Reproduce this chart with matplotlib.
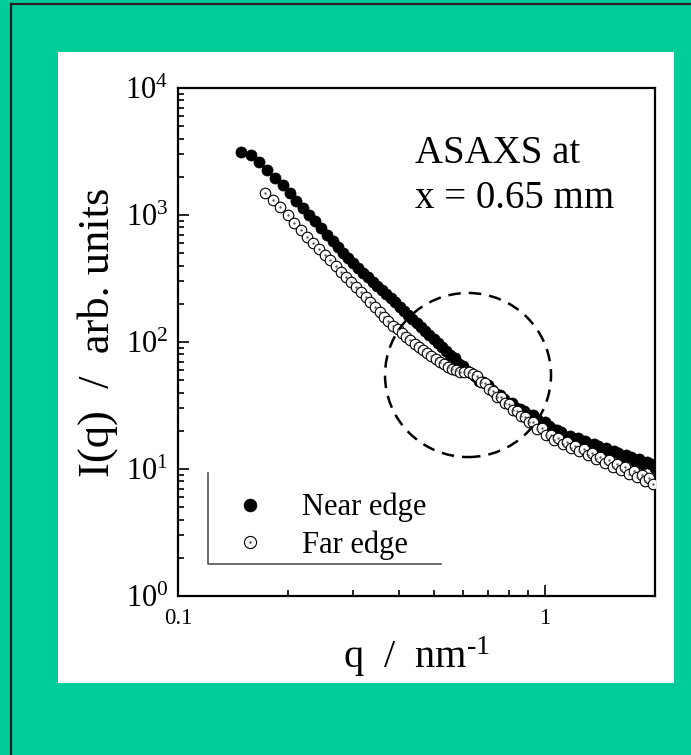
import math
import matplotlib
matplotlib.use('Agg')
import matplotlib.pyplot as plt
from matplotlib.lines import Line2D
from matplotlib.patches import Ellipse, Rectangle
from matplotlib.ticker import FixedLocator, NullFormatter

plt.rcParams['font.family'] = 'Liberation Serif'
plt.rcParams['mathtext.fontset'] = 'custom'
plt.rcParams['mathtext.rm'] = 'Liberation Serif'
plt.rcParams['mathtext.it'] = 'Liberation Serif:italic'

# ASAXS curves, scattering vector q in nm^-1 and intensity in arb. units
q_near = [0.149, 0.158, 0.166, 0.175, 0.184, 0.193, 0.202, 0.210, 0.219, 0.228,
          0.237, 0.246, 0.255, 0.264, 0.273, 0.282, 0.291, 0.300, 0.310, 0.320,
          0.330, 0.340, 0.350, 0.360, 0.370, 0.380, 0.391, 0.402, 0.413, 0.424,
          0.436, 0.448, 0.460, 0.472, 0.485, 0.498, 0.511, 0.525, 0.539, 0.553,
          0.568, 0.583, 0.598, 0.614, 0.630, 0.647, 0.664, 0.681, 0.699, 0.717,
          0.736, 0.755, 0.775, 0.795, 0.816, 0.837, 0.859, 0.881, 0.904, 0.927,
          0.951, 0.976, 1.00, 1.03, 1.05, 1.08, 1.11, 1.14, 1.17, 1.20,
          1.23, 1.26, 1.29, 1.33, 1.36, 1.40, 1.43, 1.47, 1.51, 1.55,
          1.59, 1.63, 1.67, 1.72, 1.76, 1.81, 1.85, 1.90, 1.95, 2.00]
I_near = [3130, 2970, 2610, 2260, 1950, 1710, 1490, 1300, 1135, 1005,
          895, 787, 700, 625, 560, 505, 455, 416, 381, 351,
          324, 299, 277, 256, 238, 221, 205, 190, 177, 164,
          152, 141, 131, 122, 113, 105, 98.0, 91.0, 84.5, 78.7,
          74.2, 67.5, 65.0, 59.3, 57.0, 54.3, 49.0, 48.0, 45.9, 41.9,
          39.1, 38.3, 35.9, 33.0, 32.9, 30.1, 29.9, 28.6, 26.4, 26.4,
          24.9, 23.1, 23.3, 21.9, 20.5, 20.4, 19.4, 18.0, 18.3, 17.0,
          17.4, 16.2, 16.6, 15.4, 15.8, 15.2, 14.3, 14.7, 13.5, 13.9,
          13.3, 12.5, 12.9, 12.4, 11.5, 11.9, 11.0, 11.3, 10.9, 10.2]

q_far = [0.173, 0.182, 0.190, 0.199, 0.207, 0.216, 0.225, 0.234, 0.242, 0.251,
         0.260, 0.269, 0.278, 0.287, 0.296, 0.305, 0.315, 0.325, 0.335, 0.345,
         0.355, 0.365, 0.375, 0.386, 0.397, 0.408, 0.419, 0.430, 0.442, 0.454,
         0.466, 0.478, 0.491, 0.504, 0.517, 0.531, 0.545, 0.559, 0.574, 0.589,
         0.604, 0.620, 0.636, 0.652, 0.669, 0.686, 0.704, 0.722, 0.741, 0.760,
         0.780, 0.800, 0.821, 0.842, 0.864, 0.886, 0.909, 0.932, 0.956, 0.981,
         1.01, 1.04, 1.06, 1.09, 1.12, 1.15, 1.18, 1.21, 1.24, 1.28,
         1.31, 1.35, 1.38, 1.42, 1.46, 1.50, 1.54, 1.58, 1.62, 1.66,
         1.70, 1.75, 1.79, 1.84, 1.88, 1.93, 1.98]
I_far = [1490, 1312, 1156, 1000, 865, 764, 676, 601, 544, 488,
         439, 396, 359, 326, 297, 272, 247, 225, 205, 188,
         172, 158, 146, 134, 126, 118, 110, 103, 96.5, 91.0,
         86.1, 81.5, 76.9, 73.0, 69.9, 66.9, 64.1, 61.7, 59.8, 58.0,
         58.2, 58.3, 56.1, 53.5, 48.6, 47.2, 42.4, 41.3, 37.2, 36.6,
         33.0, 32.3, 29.0, 28.8, 26.0, 25.9, 23.3, 23.4, 20.8, 20.9,
         18.5, 18.6, 17.0, 17.4, 15.8, 16.3, 14.7, 15.3, 13.8, 14.3,
         12.9, 13.3, 12.0, 12.5, 11.2, 11.7, 10.4, 10.9, 9.85, 10.3,
         9.20, 9.62, 8.60, 9.00, 8.10, 8.45, 7.60]

labels = ['Near edge', 'Far edge']
y_decades = [1, 10, 100, 1000, 10000]
x_major = [0.1, 1]
x_minor = [0.2, 0.3, 0.4, 0.5, 0.6, 0.7, 0.8, 0.9]

fig = plt.figure(figsize=(6.91, 7.55), dpi=100)
fig.patch.set_facecolor('#00CC99')

# white card behind the plot and the dark frame on the left/top
fig.add_artist(Rectangle((58 / 691, 72 / 755), 616 / 691, 631 / 755,
                         transform=fig.transFigure, facecolor='white',
                         edgecolor='none', zorder=0))
fig.add_artist(Line2D([11 / 691, 11 / 691], [0, 1 - 4 / 755],
                      transform=fig.transFigure, color='#222222', lw=1.6))
fig.add_artist(Line2D([11 / 691, 1], [1 - 4 / 755, 1 - 4 / 755],
                      transform=fig.transFigure, color='#222222', lw=1.6))

ax = fig.add_axes([178 / 691, 159 / 755, 477 / 691, 508 / 755])
ax.set_xscale('log')
ax.set_yscale('log')
ax.set_xlim(0.1, 2.0)
ax.set_ylim(1, 10000)

near, = ax.plot(q_near, I_near, 'o', ms=8.0, mfc='black', mec='black',
                mew=0.5, zorder=3)
far, = ax.plot(q_far, I_far, 'o', ms=7.6, mfc='white', mec='black',
               mew=0.8, zorder=4)
far_dot, = ax.plot(q_far, I_far, '.', ms=1.4, color='#555555', zorder=4)

# dashed circle marking the shoulder
ax.add_patch(Ellipse((0.608, 0.435), 0.348, 0.323, transform=ax.transAxes,
                     fill=False, lw=1.8, ls=(0, (5, 3.2)), color='black',
                     zorder=6))

ax.text(0.497, 0.852, 'ASAXS at', transform=ax.transAxes, fontsize=28)
ax.text(0.497, 0.764, 'x = 0.65 mm', transform=ax.transAxes, fontsize=28)

# ticks
ax.xaxis.set_major_locator(FixedLocator(x_major))
ax.xaxis.set_minor_locator(FixedLocator(x_minor))
ax.xaxis.set_major_formatter(plt.FuncFormatter(lambda v, p: '%g' % v))
ax.xaxis.set_minor_formatter(NullFormatter())
ax.yaxis.set_major_locator(FixedLocator(y_decades))
ax.yaxis.set_major_formatter(
    plt.FuncFormatter(lambda v, p: r'$\mathregular{10^{%d}}$' % round(math.log10(v))))
ax.tick_params(which='both', direction='in', top=False, right=False, width=1.2)
ax.tick_params(which='major', length=8)
ax.tick_params(which='minor', length=4.5)
ax.tick_params(axis='x', labelsize=16.5, pad=9)
ax.tick_params(axis='y', labelsize=22, pad=7)
for s in ax.spines.values():
    s.set_linewidth(1.6)

ax.set_xlabel(r'q  /  nm$^{\text{-1}}$', fontsize=29)
ax.set_ylabel('I(q)  /  arb. units', fontsize=32)
ax.xaxis.set_label_coords(0.5, -0.075)
ax.yaxis.set_label_coords(-0.126, 0.52)

# legend with only the left and bottom frame edges
ax.legend([near, (far, far_dot)], labels, loc='upper left',
          bbox_to_anchor=(0.075, 0.245), frameon=False, fontsize=22,
          handlelength=1.0, handletextpad=1.2, labelspacing=0.25,
          borderpad=0.2, markerscale=1.15)
ax.plot([0.063, 0.063, 0.552], [0.242, 0.063, 0.063], transform=ax.transAxes,
        color='#444444', lw=1.1, zorder=5)

fig.savefig('out.png', dpi=100)
